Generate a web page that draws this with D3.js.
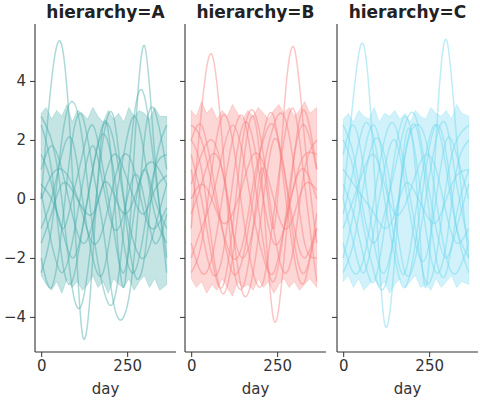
<!DOCTYPE html>
<html><head><meta charset="utf-8">
<script src="https://cdn.jsdelivr.net/npm/d3@7"></script>
<style>body{margin:0;background:#fff}text{font-family:"DejaVu Sans",sans-serif}</style>
</head><body><div id="chart"></div>
<script>
const W = 480, H = 400;
const panels = ["A", "B", "C"];
const colors = {A: "#4aaaaa", B: "#f87e7e", C: "#6fd6ef"};
const xTicks = [0, 250];
const yTicks = [-4, -2, 0, 2, 4];
const lineDays = [0, 30, 60, 90, 120, 150, 180, 210, 240, 270, 300, 330, 365];
const bandDays = [0, 15, 30, 45, 60, 75, 90, 105, 120, 135, 150, 165, 180, 195, 210, 225, 240, 255, 270, 285, 300, 315, 330, 345, 365];

const bandUpper = {
  A: [2.9, 3.1, 2.7, 3.0, 2.8, 3.2, 2.6, 3.0, 2.9, 2.7, 3.1, 2.8, 2.6, 3.0, 2.7, 2.9, 2.6, 3.1, 2.8, 3.0, 2.9, 2.7, 3.1, 2.8, 2.8],
  B: [3.0, 2.8, 3.3, 2.9, 3.1, 2.7, 3.0, 2.8, 3.2, 2.9, 2.7, 3.0, 2.8, 3.1, 2.9, 2.7, 3.0, 3.2, 2.9, 3.1, 2.8, 3.0, 3.3, 2.9, 3.1],
  C: [2.7, 2.9, 2.6, 3.0, 2.8, 2.7, 3.1, 2.6, 2.9, 2.8, 3.0, 2.7, 2.9, 2.6, 3.0, 2.8, 2.7, 3.1, 2.9, 2.8, 3.0, 2.7, 3.2, 2.9, 2.8]
};
const bandLower = {
  A: [-2.6, -2.9, -3.1, -2.8, -3.2, -2.7, -3.0, -2.8, -3.1, -2.9, -2.6, -3.0, -2.8, -3.2, -2.7, -2.9, -3.0, -2.7, -3.1, -2.8, -2.6, -3.0, -2.7, -3.1, -2.9],
  B: [-2.7, -3.0, -2.8, -3.2, -2.9, -3.1, -2.7, -3.0, -3.3, -2.8, -3.0, -2.9, -3.1, -2.7, -3.0, -2.8, -3.2, -2.9, -2.7, -3.0, -2.8, -3.1, -2.9, -2.7, -3.0],
  C: [-2.8, -2.6, -3.0, -2.7, -3.1, -2.9, -2.7, -3.0, -2.8, -3.2, -2.9, -2.7, -3.0, -2.8, -2.6, -3.0, -2.9, -3.1, -2.7, -3.0, -2.8, -2.6, -3.0, -2.8, -2.9]
};

const linesA = [
  [0, 4, 5.2, 1, -4.6, -2, 2.5, 0.5, -3, 1.5, 5.2, 1.5, -2.5],
  [-2.5, -1, 2, 3.3, 2, -1, -3, -3.5, -1, 2.8, 3.5, 1, -2],
  [1, 1.8, 1, -0.5, -1.5, -0.8, 0.5, 0.2, -0.5, 0, 1, 1.2, 0.5],
  [-2, -3, -1, 2, 2.8, 1, -1, -3.5, -4, -2, 2, 3, 1],
  [0.5, 0, -1, -2, -1, 1, 2.2, 1, -1.5, -2.5, -1, 1, 1.5],
  [1.5, 0.5, -1, 0, 1.5, 2.5, 1, -1, -2.5, -0.5, 1, 0, -1],
  [-1, 0, 1.5, 2, 0, -2, -2.5, -0.5, 1.5, 2.8, 1.5, -0.5, -1.5],
  [0.2, -1.5, -2.5, -1.5, 0.5, 1.8, 0.5, -1, -0.5, 0.8, 0, -1.5, -0.5],
  [2.5, 1, -2, -2.8, -1, 1, 2.5, 2, 0, -1.5, -2, -1, 0.5],
  [-1.5, -0.5, 0.5, 0.3, -0.3, -0.5, 0.5, 1.5, 1, 0, -0.5, 0.3, 0.8],
  [2.8, 2, 0, -3, -3.5, -1, 2, 2.8, 0, -2.5, -2, 1, 2.5],
  [0, 0.8, 1, 0.5, -0.5, -1.5, -1, 0.5, 1.5, 1, -0.5, -1, -0.3]
];
const linesB = [
  [-1, 3, 4.9, 2, -2, -3, -1, 1, -1, 3, 5.1, 2, -1.5],
  [2, 1, -1.5, -3.2, -2, 1, 2.8, 0, -4.1, -2, 1.5, 3, 1],
  [-2.5, -1.5, 1, 2.8, 2, -0.5, -2.5, -2.8, -0.5, 2, 3, 0.5, -2.8],
  [0.5, 1.5, 2, 1, -1, -2, -1, 1, 2.5, 2.8, 1, -1.5, -2],
  [1.5, 0, -2, -3, -1, 2, 3, 1.5, -1, -2.5, -1.5, 1, 2],
  [-1.5, -2.5, -2, 0, 2, 2.8, 1, -1.5, -2.8, -1, 1.5, 2.5, 1],
  [0, 0.5, 0, -0.8, -0.5, 0.5, 1.5, 1.2, 0, -1, -0.5, 0.5, 0.3],
  [2.5, 2, 0.5, -1, -2, -1.5, 0.5, 2, 2.5, 1, -1, -2, -1],
  [-2, -1, 0, 1.5, 2.5, 1.5, -0.5, -2, -2.5, -1, 0.5, 1, 0],
  [1, -1, -2.5, -2, 0.5, 2.5, 2, 0, -1.5, -1, 0.5, 1.5, 1.5],
  [-0.5, 0.5, 1.5, 1, -1, -3.2, -2.5, 0, 2, 1, -1.5, -2.5, -1],
  [2, 2.5, 1, -1, -2.5, -2, 0, 2.2, 2.8, 0.5, -2, -2.8, -0.5]
];
const linesC = [
  [0, 3.5, 5.2, 1, -4.2, -2, 2, 1, -3, 2, 5.4, 2, -2],
  [1.5, 2.5, 1, -1.5, -2.5, -1, 1.5, 2.5, 0.5, -2, -2.5, -0.5, 1],
  [-2.5, -1.5, 0.5, 2, 1.5, -0.5, -2.5, -2, 0, 2, 2.5, 0.5, -1.5],
  [0.5, -0.5, -2, -2.8, -1, 1.5, 2.8, 1.5, -1, -2.5, -1.5, 1, 2],
  [-1, 0, 1, 1.5, 0.5, -0.5, -0.2, 0.8, 1.5, 1, -0.5, -1.5, -1],
  [2.5, 1.5, -0.5, -1.5, -0.5, 1, 2.5, 2.8, 1, -1, -2, -1, 0.5],
  [-1.5, -2.5, -2, 0, 2, 2.5, 1, -1, -2.8, -2, 0.5, 2, 2.5],
  [1, 0.5, 0, -0.5, -1, -0.5, 0.5, 0.2, -0.5, -0.8, 0, 0.8, 1],
  [-0.5, 1, 2.5, 2, 0, -2, -3, -1.5, 1, 2.5, 1.5, -1, -2.5],
  [0, -1.5, -2.5, -1, 1, 2, 0.5, -1.5, -2, 0, 2, 1.5, 0],
  [2, 1, -1, -2.5, -3, -1, 1.5, 2.5, 2, 0, -2, -2.5, -1.5],
  [-2, -0.5, 1.5, 2.5, 1, -1.5, -2.5, -0.5, 1.5, 2.5, 1, -1, -2]
];
const lines = {A: linesA, B: linesB, C: linesC};

const panelLeft = [35, 185, 337];
const panelWidth = 141;
const plotTop = 24, plotBottom = 352;
const y = d3.scaleLinear().domain([-5.19, 5.93]).range([plotBottom, plotTop]);

const svg = d3.select("#chart").append("svg").attr("width", W).attr("height", H);

panels.forEach((p, i) => {
  const x = d3.scaleLinear().domain([-18, 392]).range([panelLeft[i], panelLeft[i] + panelWidth]);
  const g = svg.append("g");
  const col = colors[p];

  const band = bandDays.map((d, k) => ({d, lo: bandLower[p][k], hi: bandUpper[p][k]}));
  g.append("path").datum(band)
    .attr("d", d3.area().x(d => x(d.d)).y0(d => y(d.lo)).y1(d => y(d.hi)).curve(d3.curveLinear))
    .attr("fill", col).attr("fill-opacity", 0.32)
    .attr("stroke", col).attr("stroke-opacity", 0.25).attr("stroke-width", 1);

  const line = d3.line().x((v, k) => x(lineDays[k])).y(v => y(v)).curve(d3.curveNatural);
  g.selectAll(".ln").data(lines[p]).enter().append("path")
    .attr("d", line).attr("fill", "none")
    .attr("stroke", col).attr("stroke-opacity", 0.45).attr("stroke-width", 1.5);

  const xa = g.append("g").attr("transform", `translate(0,${plotBottom})`)
    .call(d3.axisBottom(x).tickValues(xTicks).tickSize(5).tickPadding(3));
  const ya = g.append("g").attr("transform", `translate(${panelLeft[i]},0)`)
    .call(d3.axisLeft(y).tickValues(yTicks).tickSize(5).tickPadding(4).tickFormat(i === 0 ? d => d < 0 ? "−" + (-d) : d : ""));
  [xa, ya].forEach(a => {
    a.select(".domain").attr("stroke", "#333").attr("stroke-width", 1.1);
    a.selectAll(".tick line").attr("stroke", "#333");
    a.selectAll(".tick text").attr("fill", "#333").style("font-size", "15px");
  });
  ya.select(".domain").attr("d", `M-0,${plotBottom}V${plotTop}`);
  xa.select(".domain").attr("d", `M${panelLeft[i]},0H${panelLeft[i] + panelWidth}`);

  g.append("text").attr("x", panelLeft[i] + panelWidth / 2).attr("y", 18)
    .attr("text-anchor", "middle").attr("font-weight", "bold").attr("font-size", 17)
    .attr("fill", "#222").text("hierarchy=" + p);
  g.append("text").attr("x", panelLeft[i] + panelWidth / 2).attr("y", 394)
    .attr("text-anchor", "middle").attr("font-size", 15).attr("fill", "#333").text("day");
});
</script></body></html>
